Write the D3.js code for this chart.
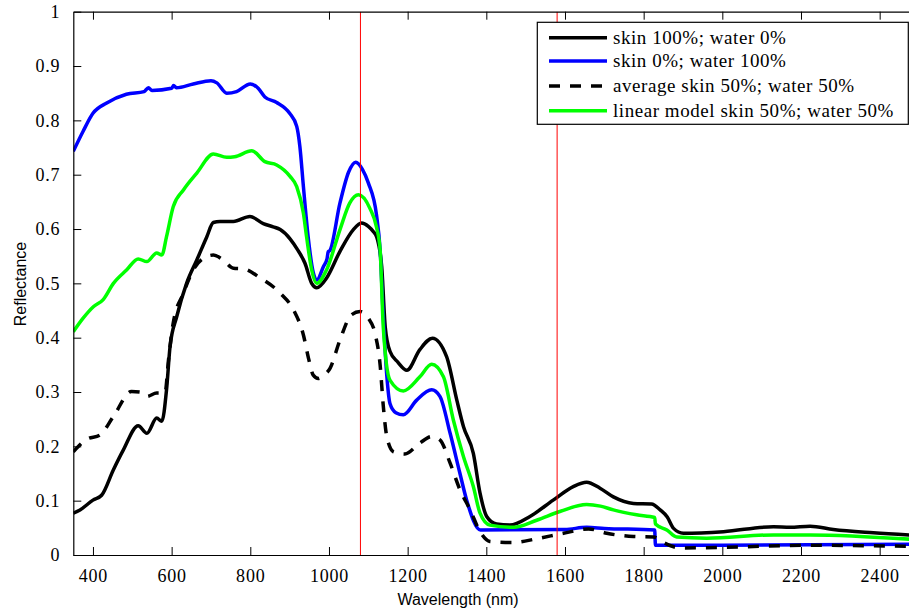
<!DOCTYPE html>
<html><head><meta charset="utf-8">
<script src="https://cdn.jsdelivr.net/npm/d3@7/dist/d3.min.js"></script>
<style>body{margin:0;background:#fff}svg{display:block}
</style>
</head><body>
<svg id="chart" width="909" height="613"></svg>
<script>
// ---- data ----
const xTicks = [400,600,800,1000,1200,1400,1600,1800,2000,2200,2400];
const yTicks = [0,0.1,0.2,0.3,0.4,0.5,0.6,0.7,0.8,0.9,1];
const legendLabels = ["skin 100%; water 0%","skin 0%; water 100%","average skin 50%; water 50%","linear model skin 50%; water 50%"];
const markerLines = [1080, 1580];

const skinNm = [350,367,400,422,452,477,515,537,562,575,587,596,613,638,664,689,706,723,757,799,833,858,876,901,920,939,956,969,994,1028,1062,1083,1100,1113,1121,1134,1143,1155,1175,1198,1231,1263,1299,1325,1342,1367,1384,1401,1426,1460,1511,1570,1621,1655,1689,1723,1774,1820,1842,1860,1876,1901,2003,2130,2172,2223,2282,2384,2500];
const skinR  = [0.077,0.083,0.101,0.110,0.157,0.193,0.238,0.224,0.252,0.246,0.304,0.384,0.439,0.500,0.543,0.585,0.612,0.614,0.614,0.623,0.610,0.604,0.599,0.582,0.562,0.537,0.500,0.492,0.510,0.559,0.599,0.611,0.605,0.595,0.586,0.531,0.420,0.375,0.355,0.340,0.378,0.399,0.365,0.285,0.236,0.187,0.114,0.071,0.057,0.055,0.071,0.101,0.126,0.134,0.123,0.107,0.095,0.094,0.083,0.070,0.049,0.040,0.043,0.052,0.051,0.053,0.047,0.041,0.036];

const waterNm = [350,375,400,435,485,530,541,550,600,605,612,655,700,715,740,765,800,820,837,867,900,918,926,935,947,960,969,986,995,998,1002,1028,1050,1068,1085,1100,1121,1130,1138,1147,1155,1170,1189,1223,1261,1282,1308,1333,1350,1385,1600,1655,1700,1828,1830,2000,2500];
const waterR  = [0.743,0.780,0.813,0.832,0.848,0.853,0.860,0.855,0.859,0.864,0.860,0.867,0.873,0.869,0.850,0.853,0.867,0.859,0.843,0.833,0.813,0.789,0.752,0.678,0.586,0.520,0.506,0.531,0.545,0.558,0.560,0.648,0.705,0.723,0.710,0.685,0.625,0.562,0.440,0.330,0.279,0.262,0.258,0.285,0.304,0.292,0.224,0.150,0.101,0.046,0.047,0.051,0.049,0.046,0.018,0.018,0.020];

const avgNm = [350,384,418,452,498,520,537,562,583,592,604,630,655,681,706,731,757,782,825,876,910,935,948,960,973,985,1003,1028,1057,1079,1100,1117,1130,1138,1147,1164,1193,1231,1261,1282,1308,1333,1359,1384,1409,1469,1528,1596,1660,1706,1774,1825,1850,1893,2045,2215,2384,2500];
const avgR  = [0.190,0.213,0.221,0.255,0.301,0.300,0.292,0.298,0.298,0.359,0.427,0.482,0.525,0.546,0.552,0.543,0.528,0.527,0.510,0.482,0.451,0.405,0.362,0.331,0.325,0.330,0.344,0.396,0.442,0.448,0.436,0.408,0.350,0.275,0.218,0.190,0.186,0.206,0.218,0.212,0.169,0.120,0.083,0.043,0.025,0.023,0.030,0.040,0.048,0.040,0.034,0.033,0.023,0.013,0.015,0.018,0.017,0.016];

const linNm = [350,375,401,426,452,486,515,537,562,575,587,604,630,664,706,740,760,804,837,867,901,918,935,943,956,969,994,1028,1053,1075,1104,1121,1130,1138,1155,1189,1231,1261,1291,1316,1342,1367,1384,1409,1469,1528,1587,1655,1690,1723,1782,1828,1830,1859,1884,1960,2130,2223,2500];
const linR  = [0.411,0.436,0.457,0.470,0.500,0.525,0.545,0.540,0.556,0.552,0.586,0.641,0.672,0.703,0.738,0.732,0.733,0.744,0.724,0.718,0.697,0.678,0.629,0.586,0.525,0.500,0.525,0.599,0.648,0.663,0.638,0.603,0.562,0.420,0.322,0.302,0.328,0.351,0.328,0.249,0.181,0.126,0.077,0.055,0.051,0.064,0.080,0.093,0.090,0.083,0.074,0.069,0.057,0.046,0.033,0.031,0.037,0.037,0.028];

// ---- layout ----
const svg = d3.select("#chart");
const L = 73.3, T = 11.7, B = 555, R = 73.3 + 2150*0.39335;
const x = d3.scaleLinear().domain([350,2500]).range([L,R]);
const y = d3.scaleLinear().domain([0,1]).range([B,T]);
const SERIF = "Liberation Serif, DejaVu Serif, serif";
const SANS = "Liberation Sans, DejaVu Sans, sans-serif";

const series = [
  {nm: skinNm, r: skinR, color:"#000000", dash:null},
  {nm: waterNm, r: waterR, color:"#0000ff", dash:null},
  {nm: avgNm, r: avgR, color:"#000000", dash:"11,10"},
  {nm: linNm, r: linR, color:"#00ff00", dash:null}
];

svg.append("clipPath").attr("id","clip").append("rect")
  .attr("x",L).attr("y",T).attr("width",R-L).attr("height",B-T);

const line = d3.line().x(d=>x(d[0])).y(d=>y(d[1])).curve(d3.curveMonotoneX);
const g = svg.append("g").attr("clip-path","url(#clip)");
series.forEach(s=>{
  g.append("path").datum(s.nm.map((v,i)=>[v,s.r[i]]))
   .attr("d",line).attr("fill","none").attr("stroke",s.color)
   .attr("stroke-width",3.5).attr("stroke-linejoin","round")
   .attr("stroke-dasharray",s.dash);
});
markerLines.forEach(m=>{
  g.append("line").attr("x1",x(m)).attr("x2",x(m)).attr("y1",T).attr("y2",B)
   .attr("stroke","#ff0000").attr("stroke-width",1);
});

// axes
const axB = d3.axisBottom(x).tickValues(xTicks).tickSizeInner(-8).tickSizeOuter(0).tickPadding(14).tickFormat(d3.format("d"));
const gx = svg.append("g").attr("transform",`translate(0,${B})`).call(axB);
const axT = d3.axisTop(x).tickValues(xTicks).tickSizeInner(-8).tickSizeOuter(0).tickFormat("");
const gt = svg.append("g").attr("transform",`translate(0,${T})`).call(axT);
const axL = d3.axisLeft(y).tickValues(yTicks).tickSizeInner(-8).tickSizeOuter(0).tickPadding(13).tickFormat(d=>String(+d.toFixed(1)));
const gy = svg.append("g").attr("transform",`translate(${L},0)`).call(axL);
[gx,gt,gy].forEach(a=>{
  a.style("font-family",SERIF).style("font-size","18px");
  a.selectAll("path").attr("stroke","#000").attr("stroke-width",1.2);
  a.selectAll("line").attr("stroke","#000").attr("stroke-width",1);
  a.selectAll("text").style("font-family",SERIF).style("font-size","18px")
    .style("letter-spacing","0.8px").attr("fill","#000");
});

svg.append("text").style("font-family",SANS).attr("x",458).attr("y",605).attr("text-anchor","middle")
  .style("font-size","16px").text("Wavelength (nm)");
svg.append("text").style("font-family",SANS).attr("transform","translate(26,284) rotate(-90)").attr("text-anchor","middle")
  .style("font-size","16px").text("Reflectance");

// legend
const lg = svg.append("g");
lg.append("rect").attr("x",537.3).attr("y",22.3).attr("width",371).attr("height",102)
  .attr("fill","#fff").attr("stroke","#000").attr("stroke-width",1.2);
const ly = [37.7,61,86,110.7];
series.forEach((s,i)=>{
  lg.append("line").attr("x1",549).attr("x2",607).attr("y1",ly[i]).attr("y2",ly[i])
    .attr("stroke",s.color).attr("stroke-width",3.5).attr("stroke-dasharray",s.dash);
  lg.append("text").style("font-family",SERIF).attr("x",613).attr("y",ly[i]).attr("dy","0.33em")
    .style("font-size","19px").style("letter-spacing","0.55px").text(legendLabels[i]);
});
</script>
</body></html>
